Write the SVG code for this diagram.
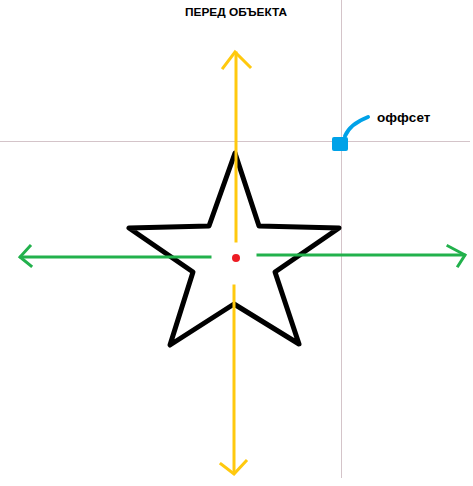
<svg xmlns="http://www.w3.org/2000/svg" width="473" height="486" viewBox="0 0 473 486">
<style>
.guide{stroke:#d4c4c9;stroke-width:1;fill:none}
.yel{stroke:#ffc90e;stroke-width:3;fill:none;stroke-linecap:square}
.grn{stroke:#22b14c;stroke-width:3;fill:none;stroke-linecap:square}
.lbl{font-family:"Liberation Sans",Arial,sans-serif;font-weight:bold;fill:#000}
</style>
<rect width="473" height="486" fill="#fff"/>
<g id="guides">
<line class="guide" x1="0" y1="141.5" x2="470" y2="141.5"/>
<line class="guide" x1="341.5" y1="0" x2="341.5" y2="478"/>
</g>
<g id="star">
<polygon points="235,153 259,226 339,228 275,272 299,344 234,304 170,345 193,272 129,228 209,226" fill="none" stroke="#000" stroke-width="5" stroke-linejoin="round"/>
</g>
<g id="connectors">
<line class="yel" x1="236" y1="53" x2="236" y2="241"/>
<polyline class="yel" points="223,68 235,52 250,67"/>
<line class="yel" x1="234" y1="286" x2="234" y2="472"/>
<polyline class="yel" points="221,464 234,474 246,461"/>
<line class="grn" x1="21" y1="257" x2="210" y2="257"/>
<polyline class="grn" points="30,246 20,257 31,266"/>
<line class="grn" x1="258" y1="255" x2="464" y2="255"/>
<polyline class="grn" points="448,246 465,255 458,266"/>
</g>
<g id="center">
<circle cx="236" cy="258" r="4" fill="#ed1c24"/>
</g>
<g id="offset">
<path d="M345,136 Q350,124 368,117" stroke="#00a2e8" stroke-width="4" fill="none" stroke-linecap="round"/>
<rect x="332" y="137" width="16" height="14" rx="2" fill="#00a2e8"/>
<text class="lbl" x="377" y="122" font-size="13.5">оффсет</text>
</g>
<g id="title">
<text class="lbl" x="185" y="16" font-size="11.5" textLength="102" lengthAdjust="spacingAndGlyphs">ПЕРЕД ОБЪЕКТА</text>
</g>
</svg>
